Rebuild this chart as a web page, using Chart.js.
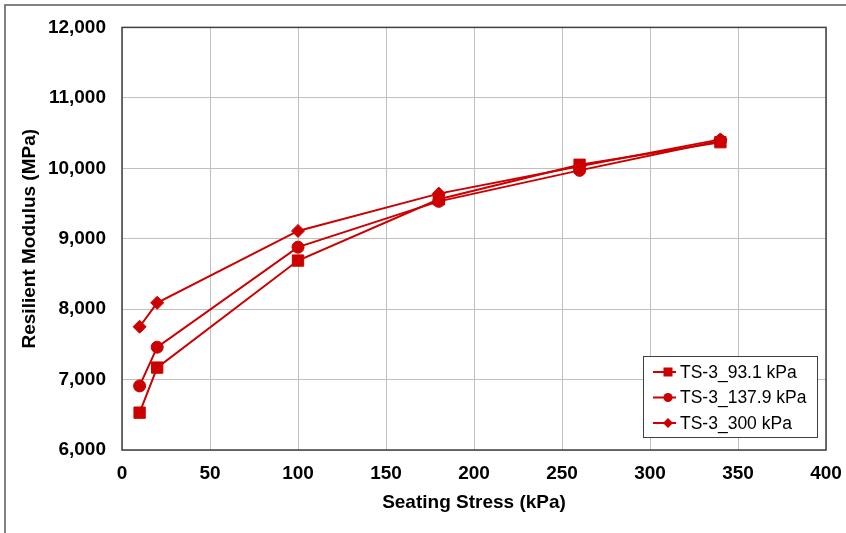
<!DOCTYPE html>
<html>
<head>
<meta charset="utf-8">
<script src="https://cdn.jsdelivr.net/npm/chart.js@4.4.0/dist/chart.umd.min.js"></script>
<style>
  html, body { margin: 0; padding: 0; background: #fff; }
  #wrap { width: 846px; height: 533px; position: relative; }
</style>
</head>
<body>
<div id="wrap"><canvas id="chart" width="846" height="533"></canvas></div>
<script>
// Chart data
let stress = [10, 20, 100, 180, 260, 340];
let ts93 = [6530, 7170, 8690, 9560, 10050, 10370];
let ts138 = [6910, 7460, 8880, 9530, 9970, 10390];
let ts300 = [7750, 8090, 9110, 9640, 10030, 10410];
let seriesNames = ["TS-3_93.1 kPa", "TS-3_137.9 kPa", "TS-3_300 kPa"];

// Colors
let red = "#CC0000";
let grid = "#BFBFBF";
let frame = "#404040";

let font = "'Liberation Sans', Arial, sans-serif";

function pts(vals) {
  return stress.map((x, i) => ({ x: x, y: vals[i] }));
}

// frame round the plot + outer border + legend inside the plot
let decor = {
  id: 'decor',
  beforeDraw(chart) {
    let ctx = chart.ctx;
    ctx.save();
    ctx.strokeStyle = "#595959";
    ctx.lineWidth = 1.5;
    ctx.beginPath();
    ctx.moveTo(5, 533);
    ctx.lineTo(5, 5);
    ctx.lineTo(846, 5);
    ctx.stroke();
    ctx.restore();
  },
  beforeDatasetsDraw(chart) {
    let a = chart.chartArea;
    let ctx = chart.ctx;
    ctx.save();
    ctx.strokeStyle = frame;
    ctx.lineWidth = 1.5;
    ctx.strokeRect(a.left, a.top, a.right - a.left, a.bottom - a.top);
    ctx.restore();
  },
  afterDraw(chart) {
    let a = chart.chartArea;
    let ctx = chart.ctx;
    let bw = 174, bh = 81;
    let bx = a.right - 9 - bw, by = a.bottom - 13 - bh;
    ctx.save();
    ctx.fillStyle = "#fff";
    ctx.fillRect(bx, by, bw, bh);
    ctx.strokeStyle = frame;
    ctx.lineWidth = 1;
    ctx.strokeRect(bx + 0.5, by + 0.5, bw, bh);
    ctx.font = "17.5px " + font;
    ctx.textBaseline = "middle";
    let styles = ['rect', 'circle', 'rectRot'];
    chart.data.datasets.forEach((ds, i) => {
      let y = by + 16 + i * 25.5;
      let mx = bx + 25;
      ctx.strokeStyle = red;
      ctx.lineWidth = 2;
      ctx.beginPath();
      ctx.moveTo(bx + 10, y);
      ctx.lineTo(bx + 33, y);
      ctx.stroke();
      ctx.fillStyle = red;
      ctx.beginPath();
      if (styles[i] == 'rect') ctx.rect(mx - 4.5, y - 4.5, 9, 9);
      else if (styles[i] == 'circle') ctx.arc(mx, y, 4.5, 0, Math.PI * 2);
      else { ctx.moveTo(mx, y - 5); ctx.lineTo(mx + 5, y); ctx.lineTo(mx, y + 5); ctx.lineTo(mx - 5, y); ctx.closePath(); }
      ctx.fill();
      ctx.fillStyle = "#000";
      ctx.fillText(ds.label, bx + 37, y + 1);
    });
    ctx.restore();
  }
};

function series(label, vals, style, r) {
  return {
    label: label,
    data: pts(vals),
    showLine: true,
    borderColor: red,
    backgroundColor: red,
    borderWidth: 2,
    pointStyle: style,
    pointRadius: r,
    pointHoverRadius: r,
    pointBorderWidth: 1
  };
}

let tickFont = { family: font, size: 19, weight: 'bold' };

new Chart(document.getElementById("chart").getContext('2d'), {
  type: 'scatter',
  data: {
    datasets: [
      series(seriesNames[0], ts93, 'rect', 8),
      series(seriesNames[1], ts138, 'circle', 6),
      series(seriesNames[2], ts300, 'rectRot', 6.5)
    ]
  },
  options: {
    responsive: false,
    animation: false,
    layout: { padding: { top: 27, right: 20, left: 18, bottom: 0 } },
    plugins: {
      legend: { display: false },
      tooltip: { enabled: false }
    },
    scales: {
      x: {
        type: 'linear',
        min: 0, max: 400,
        ticks: { stepSize: 50, color: "#000", font: tickFont, padding: 12 },
        grid: { color: grid, lineWidth: 1, drawTicks: false },
        border: { display: false },
        title: { display: true, text: "Seating Stress (kPa)", color: "#000", font: tickFont, padding: { top: 4, bottom: 19 } },
        afterFit(scale) { scale.height = 83; scale.paddingRight = 0; scale.paddingLeft = 0; }
      },
      y: {
        min: 6000, max: 12000,
        ticks: { stepSize: 1000, color: "#000", font: tickFont, padding: 16,
          callback: v => v.toLocaleString('en-US') },
        grid: { color: grid, lineWidth: 1, drawTicks: false },
        border: { display: false },
        title: { display: true, text: "Resilient Modulus (MPa)", color: "#000", font: tickFont, padding: 0 },
        afterFit(scale) { scale.width = 104; }
      }
    }
  },
  plugins: [decor]
});
</script>
</body>
</html>
